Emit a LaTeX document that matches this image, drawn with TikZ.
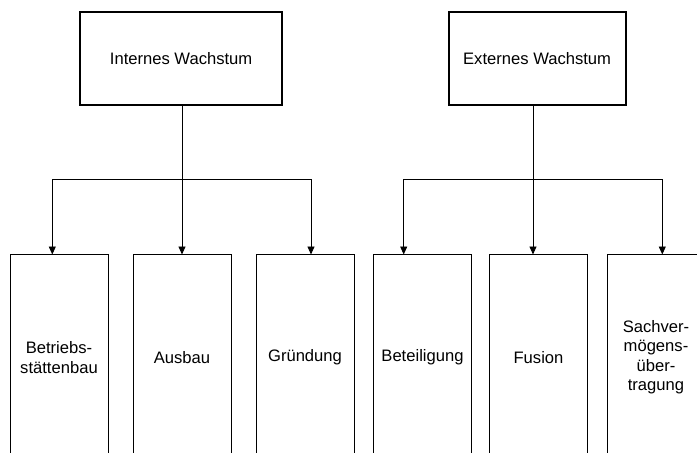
\documentclass[tikz,border=0pt]{standalone}
\usepackage{fontspec}
\setmainfont{Liberation Sans}
\usetikzlibrary{arrows.meta}
\begin{document}
\begin{tikzpicture}[x=1pt,y=-1pt,
  every node/.style={font=\fontsize{16.6}{19.5}\selectfont, align=center, inner sep=0pt},
  headbox/.style={draw, line width=2.2pt, anchor=north west},
  itembox/.style={draw, line width=0.9pt, anchor=north, minimum width=98pt, minimum height=206pt},
  link/.style={line width=0.9pt},
  arr/.style={link, -{Triangle[length=8pt,width=7pt]}, shorten >=-0.5pt}]
  \useasboundingbox (0,0) rectangle (697,453);
  \clip (0,0) rectangle (697,453);

  % top level
  \node[headbox, minimum width=202pt, minimum height=93pt] (it) at (79,11) {Internes Wachstum};
  \node[headbox, minimum width=177pt, minimum height=93pt] (et) at (447.5,11) {Externes Wachstum};

  % second level, internal growth
  \node[itembox] (b1) at (59,254) {Betriebs-\\stättenbau};
  \node[itembox] (b2) at (182,254) {Ausbau};
  \node[itembox] (b3) at (305,254) {Gründung};

  % second level, external growth
  \node[itembox] (b4) at (422.5,254) {Beteiligung};
  \node[itembox] (b5) at (538.5,254) {Fusion};
  \node[itembox] (b6) at (656,254) {Sachver-\\mögens-\\über-\\tragung};

  % branch points
  \coordinate (iL) at (52.3,179);
  \coordinate (iR) at (311,179);
  \coordinate (iC) at (182,179);
  \coordinate (eL) at (403.7,179);
  \coordinate (eR) at (662.3,179);
  \coordinate (eC) at (533,179);

  % internal growth connectors
  \draw[arr] (iC |- it.south) -- (iC |- b2.north);
  \draw[link] (iL) -- (iR);
  \draw[arr] (iL) -- (iL |- b1.north);
  \draw[arr] (iR) -- (iR |- b3.north);

  % external growth connectors
  \draw[arr] (eC |- et.south) -- (eC |- b5.north);
  \draw[link] (eL) -- (eR);
  \draw[arr] (eL) -- (eL |- b4.north);
  \draw[arr] (eR) -- (eR |- b6.north);
\end{tikzpicture}
\end{document}
